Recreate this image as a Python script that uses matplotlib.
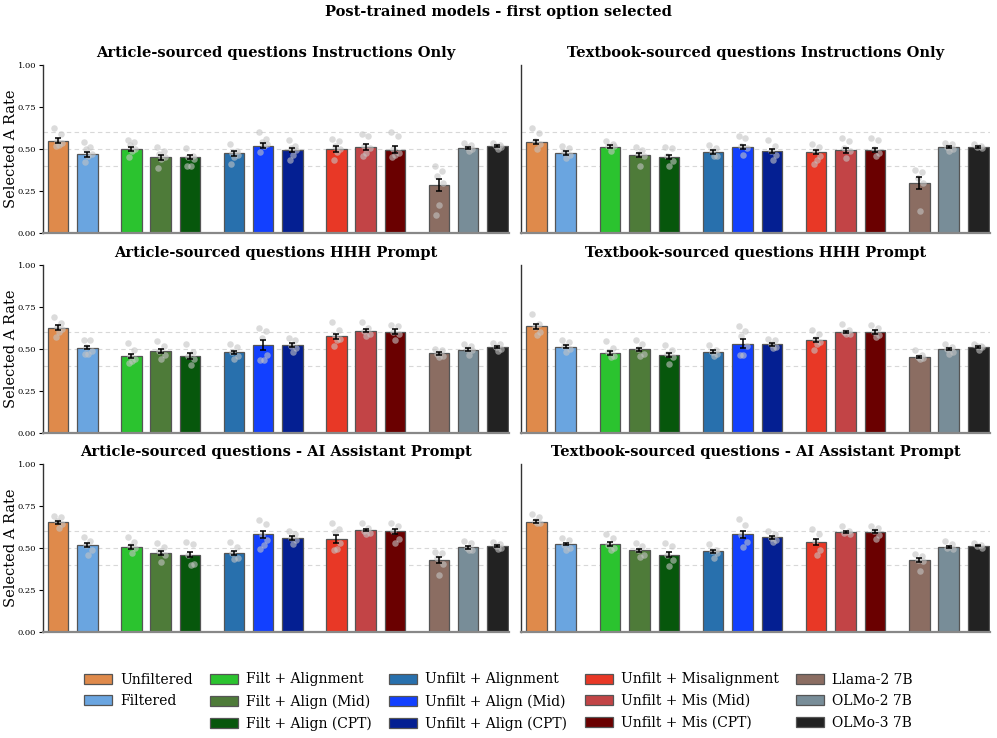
import matplotlib
matplotlib.use("Agg")
import matplotlib.pyplot as plt
from matplotlib.patches import Patch
import numpy as np

plt.rcParams['font.family'] = ['DejaVu Serif']

models = ["Unfiltered", "Filtered",
          "Filt + Alignment", "Filt + Align (Mid)", "Filt + Align (CPT)",
          "Unfilt + Alignment", "Unfilt + Align (Mid)", "Unfilt + Align (CPT)",
          "Unfilt + Misalignment", "Unfilt + Mis (Mid)", "Unfilt + Mis (CPT)",
          "Llama-2 7B", "OLMo-2 7B", "OLMo-3 7B"]
colors = ["#DF8A4B", "#6AA5E0",
          "#2BC32F", "#4E7B39", "#07570C",
          "#2870AD", "#1240FF", "#041F92",
          "#E83826", "#C24446", "#6A0000",
          "#8B6D62", "#788D98", "#222222"]
groups = [0, 0, 1, 1, 1, 2, 2, 2, 3, 3, 3, 4, 4, 4]

titles = ["Article-sourced questions Instructions Only",
          "Textbook-sourced questions Instructions Only",
          "Article-sourced questions HHH Prompt",
          "Textbook-sourced questions HHH Prompt",
          "Article-sourced questions - AI Assistant Prompt",
          "Textbook-sourced questions - AI Assistant Prompt"]

# bar means
article_instr = [0.548, 0.470, 0.500, 0.450, 0.450, 0.474, 0.520, 0.494, 0.498, 0.510, 0.496, 0.286, 0.506, 0.516]
textbook_instr = [0.542, 0.476, 0.514, 0.462, 0.452, 0.482, 0.512, 0.490, 0.482, 0.492, 0.492, 0.298, 0.512, 0.512]
article_hhh = [0.627, 0.508, 0.458, 0.486, 0.458, 0.480, 0.524, 0.524, 0.575, 0.609, 0.603, 0.474, 0.496, 0.512]
textbook_hhh = [0.635, 0.514, 0.476, 0.498, 0.464, 0.484, 0.532, 0.528, 0.556, 0.601, 0.601, 0.454, 0.498, 0.512]
article_ai = [0.652, 0.517, 0.505, 0.473, 0.461, 0.473, 0.581, 0.559, 0.553, 0.608, 0.600, 0.429, 0.503, 0.513]
textbook_ai = [0.656, 0.523, 0.523, 0.487, 0.461, 0.481, 0.581, 0.563, 0.537, 0.594, 0.598, 0.431, 0.507, 0.513]

# error bar half-widths
article_instr_err = [0.015, 0.015, 0.012, 0.013, 0.012, 0.014, 0.015, 0.012, 0.018, 0.018, 0.020, 0.038, 0.008, 0.006]
textbook_instr_err = [0.014, 0.010, 0.008, 0.012, 0.010, 0.010, 0.012, 0.012, 0.012, 0.015, 0.012, 0.036, 0.006, 0.004]
article_hhh_err = [0.016, 0.010, 0.014, 0.012, 0.016, 0.010, 0.030, 0.010, 0.016, 0.010, 0.014, 0.010, 0.010, 0.008]
textbook_hhh_err = [0.014, 0.008, 0.010, 0.010, 0.012, 0.008, 0.028, 0.008, 0.012, 0.006, 0.010, 0.006, 0.006, 0.004]
article_ai_err = [0.010, 0.012, 0.012, 0.012, 0.016, 0.012, 0.022, 0.010, 0.022, 0.008, 0.016, 0.016, 0.008, 0.006]
textbook_ai_err = [0.008, 0.008, 0.010, 0.010, 0.014, 0.008, 0.020, 0.010, 0.018, 0.005, 0.010, 0.012, 0.006, 0.004]

# individual run points
article_instr_pts = [
    [0.627, 0.589, 0.546, 0.536, 0.526, 0.520],
    [0.540, 0.512, 0.500, 0.472, 0.460, 0.420],
    [0.556, 0.540, 0.526, 0.500, 0.486, 0.452],
    [0.512, 0.490, 0.472, 0.455, 0.440, 0.387],
    [0.504, 0.460, 0.452, 0.440, 0.400, 0.397],
    [0.528, 0.490, 0.476, 0.465, 0.452, 0.413],
    [0.601, 0.560, 0.544, 0.530, 0.516, 0.480],
    [0.552, 0.516, 0.505, 0.496, 0.466, 0.433],
    [0.562, 0.546, 0.516, 0.500, 0.480, 0.433],
    [0.591, 0.575, 0.520, 0.506, 0.476, 0.456],
    [0.599, 0.575, 0.500, 0.476, 0.466, 0.452],
    [0.400, 0.367, 0.337, 0.298, 0.169, 0.109],
    [0.534, 0.524, 0.512, 0.500, 0.490],
    [0.536, 0.524, 0.516, 0.510, 0.500]]
textbook_instr_pts = [
    [0.623, 0.595, 0.546, 0.530, 0.500],
    [0.520, 0.506, 0.480, 0.466, 0.446],
    [0.546, 0.532, 0.520, 0.516, 0.486],
    [0.512, 0.492, 0.470, 0.456, 0.400],
    [0.512, 0.506, 0.460, 0.427, 0.397],
    [0.524, 0.506, 0.490, 0.456, 0.460],
    [0.575, 0.563, 0.520, 0.506, 0.466],
    [0.552, 0.520, 0.490, 0.466, 0.433],
    [0.532, 0.512, 0.490, 0.460, 0.437, 0.413],
    [0.565, 0.546, 0.506, 0.490, 0.446],
    [0.567, 0.556, 0.500, 0.476, 0.456],
    [0.377, 0.361, 0.327, 0.300, 0.129],
    [0.536, 0.528, 0.512, 0.500, 0.486],
    [0.528, 0.520, 0.512, 0.504]]
article_hhh_pts = [
    [0.690, 0.655, 0.630, 0.621, 0.600, 0.571],
    [0.556, 0.552, 0.510, 0.490, 0.472, 0.470],
    [0.536, 0.492, 0.460, 0.440, 0.429, 0.417],
    [0.548, 0.516, 0.490, 0.462, 0.442],
    [0.528, 0.480, 0.456, 0.440, 0.403],
    [0.528, 0.512, 0.480, 0.460, 0.442],
    [0.627, 0.607, 0.567, 0.462, 0.437, 0.433],
    [0.567, 0.556, 0.520, 0.508, 0.482],
    [0.659, 0.611, 0.580, 0.560, 0.552, 0.516],
    [0.659, 0.627, 0.605, 0.587, 0.575],
    [0.641, 0.635, 0.600, 0.591, 0.556],
    [0.502, 0.492, 0.472, 0.456, 0.450],
    [0.532, 0.516, 0.500, 0.492, 0.462],
    [0.536, 0.528, 0.510, 0.502, 0.490]]
textbook_hhh_pts = [
    [0.706, 0.650, 0.630, 0.600, 0.581],
    [0.552, 0.542, 0.520, 0.500, 0.482],
    [0.548, 0.508, 0.480, 0.460, 0.452],
    [0.552, 0.528, 0.500, 0.468, 0.460],
    [0.522, 0.492, 0.470, 0.450, 0.409],
    [0.522, 0.496, 0.480, 0.470, 0.456],
    [0.635, 0.607, 0.575, 0.520, 0.466, 0.462],
    [0.562, 0.552, 0.530, 0.510, 0.508],
    [0.615, 0.591, 0.560, 0.542, 0.530, 0.492],
    [0.651, 0.615, 0.600, 0.590, 0.587],
    [0.641, 0.627, 0.600, 0.585, 0.571],
    [0.492, 0.462, 0.455, 0.448, 0.440],
    [0.528, 0.512, 0.500, 0.482, 0.470],
    [0.528, 0.520, 0.516, 0.510, 0.496]]
article_ai_pts = [
    [0.690, 0.682, 0.660, 0.640, 0.622],
    [0.567, 0.543, 0.520, 0.487, 0.457],
    [0.563, 0.537, 0.511, 0.500, 0.471],
    [0.531, 0.507, 0.480, 0.457, 0.417],
    [0.537, 0.523, 0.460, 0.405, 0.398],
    [0.537, 0.503, 0.470, 0.440, 0.437],
    [0.666, 0.642, 0.580, 0.547, 0.520, 0.497],
    [0.602, 0.586, 0.560, 0.547, 0.523],
    [0.650, 0.616, 0.596, 0.530, 0.497, 0.487],
    [0.646, 0.622, 0.600, 0.590, 0.582],
    [0.646, 0.630, 0.600, 0.551, 0.531],
    [0.477, 0.471, 0.440, 0.404, 0.338],
    [0.543, 0.527, 0.500, 0.490, 0.487],
    [0.537, 0.523, 0.510, 0.500, 0.497]]
textbook_ai_pts = [
    [0.702, 0.682, 0.660, 0.650, 0.646],
    [0.557, 0.547, 0.520, 0.500, 0.491],
    [0.586, 0.557, 0.520, 0.500, 0.491],
    [0.527, 0.511, 0.490, 0.460, 0.447],
    [0.527, 0.511, 0.460, 0.427, 0.392],
    [0.523, 0.487, 0.480, 0.470, 0.443],
    [0.674, 0.634, 0.580, 0.537, 0.503],
    [0.602, 0.582, 0.560, 0.550, 0.535],
    [0.616, 0.586, 0.540, 0.487, 0.457],
    [0.630, 0.600, 0.590, 0.585],
    [0.630, 0.622, 0.600, 0.580, 0.551],
    [0.467, 0.451, 0.430, 0.420, 0.364],
    [0.543, 0.523, 0.500, 0.497],
    [0.527, 0.515, 0.511, 0.500]]

panel_means = [article_instr, textbook_instr, article_hhh, textbook_hhh, article_ai, textbook_ai]
panel_errs = [article_instr_err, textbook_instr_err, article_hhh_err, textbook_hhh_err, article_ai_err, textbook_ai_err]
panel_pts = [article_instr_pts, textbook_instr_pts, article_hhh_pts, textbook_hhh_pts, article_ai_pts, textbook_ai_pts]

# layout
W, H = 997, 738
fig = plt.figure(figsize=(W / 100, H / 100), dpi=100)
col_px = [(43, 509), (521, 990)]
row_px = [(65, 233), (265, 433), (464, 632)]

xpos = np.array([i + 0.5 * g for i, g in enumerate(groups)], dtype=float)
jitter = [-0.13, 0.10, -0.05, 0.14, 0.02, -0.09, 0.06]

for p in range(6):
    r, c = divmod(p, 2)
    x0, x1 = col_px[c]
    y0, y1 = row_px[r]
    ax = fig.add_axes([x0 / W, 1 - y1 / H, (x1 - x0) / W, (y1 - y0) / H])
    for gy in (0.4, 0.5, 0.6):
        ax.axhline(gy, color="#d8d8d8", lw=0.8, ls=(0, (4, 3)), zorder=0)
    ax.bar(xpos, panel_means[p], width=0.7, color=colors, edgecolor="#555555",
           linewidth=0.9, zorder=2)
    for i, pts in enumerate(panel_pts[p]):
        xs = [xpos[i] + jitter[k % len(jitter)] for k in range(len(pts))]
        ax.scatter(xs, pts, s=22, color="#c4c4c4", alpha=0.6, linewidths=0, zorder=3)
    ax.errorbar(xpos, panel_means[p], yerr=panel_errs[p], fmt="none", ecolor="black",
                elinewidth=1.1, capsize=2.5, capthick=1.1, zorder=4)
    ax.set_xlim(-0.52, 15.4)
    ax.set_ylim(0, 1.0)
    ax.set_xticks([])
    ax.set_title(titles[p], fontsize=10.5, fontweight="bold", pad=6)
    ax.spines["top"].set_visible(False)
    ax.spines["right"].set_visible(False)
    ax.spines["left"].set_color("#333333")
    ax.spines["left"].set_linewidth(1.0)
    ax.spines["bottom"].set_color("#888888")
    ax.spines["bottom"].set_linewidth(1.6)
    if c == 0:
        ax.set_yticks([0, 0.25, 0.5, 0.75, 1.0])
        ax.set_yticklabels(["0.00", "0.25", "0.50", "0.75", "1.00"], fontsize=6)
        ax.tick_params(axis="y", length=3, width=0.8, pad=2)
        ax.set_ylabel("Selected A Rate", fontsize=10.5)
        ax.yaxis.set_label_coords((18 - x0) / (x1 - x0), 0.5)
    else:
        ax.set_yticks([])

fig.suptitle("Post-trained models - first option selected", fontsize=10.5,
             fontweight="bold", y=1 - 12 / H, va="center")

handles = []
labels = []
for i, (m, col) in enumerate(zip(models, colors)):
    handles.append(Patch(facecolor=col, edgecolor="#555555", linewidth=0.9))
    labels.append(m)
    if i == 1:
        handles.append(Patch(facecolor="none", edgecolor="none"))
        labels.append("")
fig.legend(handles, labels, loc="upper center", bbox_to_anchor=(0.5, 1 - 660 / H),
           ncol=5, frameon=False, fontsize=10, columnspacing=1.25,
           handletextpad=0.6, labelspacing=0.55)

fig.savefig("out.png", dpi=100)
